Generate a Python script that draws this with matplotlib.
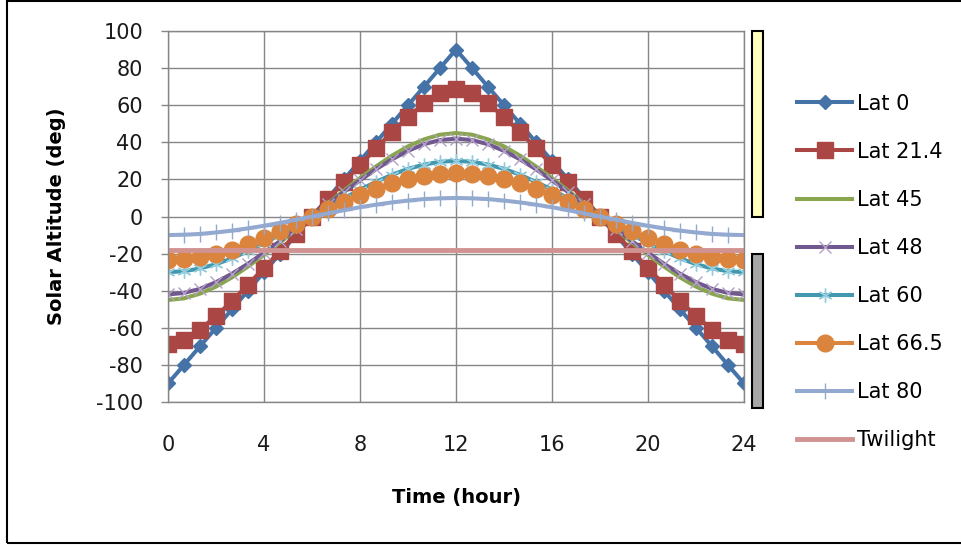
import matplotlib.pyplot as plt
from matplotlib.patches import Rectangle
import matplotlib.transforms as mtransforms

plt.rcParams['font.family'] = ['DejaVu Sans']
plt.rcParams['axes.unicode_minus'] = False

# time of day (hours), one point every 10 degrees of hour angle
hours = [0, 0.67, 1.33, 2, 2.67, 3.33, 4, 4.67, 5.33, 6, 6.67, 7.33, 8, 8.67, 9.33,
         10, 10.67, 11.33, 12, 12.67, 13.33, 14, 14.67, 15.33, 16, 16.67, 17.33,
         18, 18.67, 19.33, 20, 20.67, 21.33, 22, 22.67, 23.33, 24]

lat0 = [-90, -80, -70, -60, -50, -40, -30, -20, -10, 0, 10, 20, 30, 40, 50, 60, 70, 80, 90,
        80, 70, 60, 50, 40, 30, 20, 10, 0, -10, -20, -30, -40, -50, -60, -70, -80, -90]
lat21 = [-68.6, -66.5, -61.0, -53.7, -45.5, -36.8, -27.7, -18.6, -9.3, 0,
         9.3, 18.6, 27.7, 36.8, 45.5, 53.7, 61.0, 66.5, 68.6,
         66.5, 61.0, 53.7, 45.5, 36.8, 27.7, 18.6, 9.3, 0,
         -9.3, -18.6, -27.7, -36.8, -45.5, -53.7, -61.0, -66.5, -68.6]
lat45 = [-45.0, -44.1, -41.6, -37.8, -32.8, -27.0, -20.7, -14.0, -7.1, 0,
         7.1, 14.0, 20.7, 27.0, 32.8, 37.8, 41.6, 44.1, 45.0,
         44.1, 41.6, 37.8, 32.8, 27.0, 20.7, 14.0, 7.1, 0,
         -7.1, -14.0, -20.7, -27.0, -32.8, -37.8, -41.6, -44.1, -45.0]
lat48 = [-42.0, -41.2, -39.0, -35.4, -30.8, -25.5, -19.5, -13.2, -6.7, 0,
         6.7, 13.2, 19.5, 25.5, 30.8, 35.4, 39.0, 41.2, 42.0,
         41.2, 39.0, 35.4, 30.8, 25.5, 19.5, 13.2, 6.7, 0,
         -6.7, -13.2, -19.5, -25.5, -30.8, -35.4, -39.0, -41.2, -42.0]
lat60 = [-30.0, -29.5, -28.0, -25.7, -22.5, -18.7, -14.5, -9.8, -5.0, 0,
         5.0, 9.8, 14.5, 18.7, 22.5, 25.7, 28.0, 29.5, 30.0,
         29.5, 28.0, 25.7, 22.5, 18.7, 14.5, 9.8, 5.0, 0,
         -5.0, -9.8, -14.5, -18.7, -22.5, -25.7, -28.0, -29.5, -30.0]
lat66 = [-23.5, -23.1, -22.0, -20.2, -17.8, -14.9, -11.5, -7.8, -4.0, 0,
         4.0, 7.8, 11.5, 14.9, 17.8, 20.2, 22.0, 23.1, 23.5,
         23.1, 22.0, 20.2, 17.8, 14.9, 11.5, 7.8, 4.0, 0,
         -4.0, -7.8, -11.5, -14.9, -17.8, -20.2, -22.0, -23.1, -23.5]
lat80 = [-10.0, -9.8, -9.4, -8.6, -7.6, -6.4, -5.0, -3.4, -1.7, 0,
         1.7, 3.4, 5.0, 6.4, 7.6, 8.6, 9.4, 9.8, 10.0,
         9.8, 9.4, 8.6, 7.6, 6.4, 5.0, 3.4, 1.7, 0,
         -1.7, -3.4, -5.0, -6.4, -7.6, -8.6, -9.4, -9.8, -10.0]
twilight = [-18] * len(hours)

fig = plt.figure(figsize=(9.61, 5.46), dpi=100)
ax = fig.add_axes([0.1748, 0.2637, 0.5994, 0.6795])

lw = 2.9
ax.plot(hours, lat0, color='#4572A7', lw=lw, marker='D', ms=7.5, mec='#4572A7', label='Lat 0')
ax.plot(hours, lat21, color='#AA4643', lw=lw, marker='s', ms=11, mec='#AA4643', label='Lat 21.4')
ax.plot(hours, lat45, color='#89A54E', lw=lw, label='Lat 45')
ax.plot(hours, lat48, color='#71588F', lw=lw, marker='x', ms=9, mew=1, mec='#B3A2C7', label='Lat 48')
ax.plot(hours, lat60, color='#4198AF', lw=lw, marker=(6, 2, 0), ms=10, mew=1, mec='#93CDDD', label='Lat 60')
ax.plot(hours, lat66, color='#DB843D', lw=lw, marker='o', ms=12, mec='#DB843D', label='Lat 66.5')
ax.plot(hours, lat80, color='#93A9CF', lw=lw, marker='+', ms=11, mew=1, mec='#93A9CF', label='Lat 80')
ax.plot(hours, twilight, color='#D19392', lw=3.5, label='Twilight')

ax.set_xlim(0, 24)
ax.set_ylim(-100, 100)
ax.set_xticks(range(0, 25, 4))
ax.set_yticks(range(-100, 101, 20))
ax.grid(True, color='#868686', lw=1)
for s in ax.spines.values():
    s.set_color('#868686')
    s.set_linewidth(1)
ax.tick_params(axis='x', length=0, pad=24, labelsize=15, colors='#1a1a1a')
ax.tick_params(axis='y', length=5, width=1, color='#868686', pad=13, labelsize=15, labelcolor='#1a1a1a')

# day / night bars beside the plot
tr = mtransforms.blended_transform_factory(ax.transAxes, ax.transData)
ax.add_patch(Rectangle((1.014, 0), 0.019, 100, transform=tr, clip_on=False,
                       facecolor='#FFFFC0', edgecolor='black', lw=1.5))
ax.add_patch(Rectangle((1.014, -103), 0.019, 83, transform=tr, clip_on=False,
                       facecolor='#A6A6A6', edgecolor='black', lw=1.5))

fig.text(57 / 961, 1 - 216 / 546, 'Solar Altitude (deg)', rotation=90, ha='center', va='center',
         fontsize=14, fontweight='bold')
fig.text(456 / 961, 1 - 497 / 546, 'Time (hour)', ha='center', va='center',
         fontsize=14, fontweight='bold')

fig.legend(loc='center left', bbox_to_anchor=(797 / 961, 1 - 272 / 546), frameon=False,
           fontsize=15, handlelength=2.64, handletextpad=0.25, labelspacing=1.35,
           borderpad=0, borderaxespad=0, numpoints=1)

# outer chart border
fig.add_artist(Rectangle((7 / 961, 3 / 546), 1.0, 542 / 546, transform=fig.transFigure,
                         fill=False, edgecolor='black', lw=1.5))

fig.savefig('out.png', dpi=100)
